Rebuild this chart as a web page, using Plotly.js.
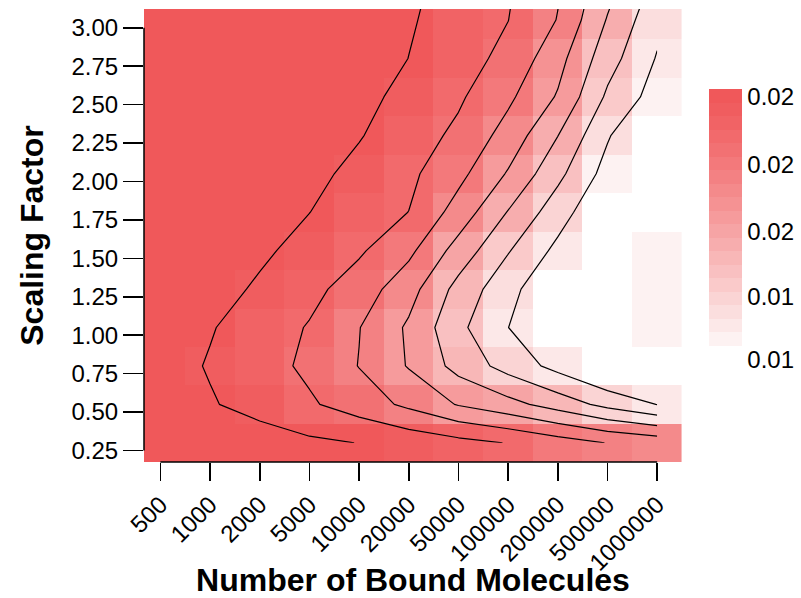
<!DOCTYPE html>
<html>
<head>
<meta charset="utf-8">
<script src="https://cdn.plot.ly/plotly-3.0.1.min.js"></script>
<style>html,body{margin:0;padding:0;background:#fff;}#chart{width:801px;height:598px;}</style>
</head>
<body>
<div id="chart"></div>
<script>
// ---------------- data ----------------
const boundMolecules = ["500","1000","2000","5000","10000","20000","50000","100000","200000","500000","1000000"];
const scalingFactors = [0.3, 0.55, 0.8, 1.05, 1.3, 1.55, 1.8, 2.05, 2.3, 2.55, 2.8, 3.05, 3.3];

const sf_0_30 = [0.01960,0.01955,0.01951,0.01918,0.01898,0.01865,0.01831,0.01796,0.01746,0.01697,0.01664];
const sf_0_55 = [0.01956,0.01909,0.01861,0.01813,0.01751,0.01679,0.01593,0.01533,0.01456,0.01370,0.01298];
const sf_0_80 = [0.01944,0.01892,0.01840,0.01780,0.01697,0.01593,0.01466,0.01362,0.01268,0.01174,0.01140];
const sf_1_05 = [0.01963,0.01907,0.01851,0.01793,0.01703,0.01585,0.01423,0.01301,0.01185,0.01140,0.01240];
const sf_1_30 = [0.01980,0.01941,0.01885,0.01828,0.01753,0.01639,0.01467,0.01332,0.01209,0.01150,0.01240];
const sf_1_55 = [0.01980,0.01970,0.01918,0.01865,0.01813,0.01723,0.01560,0.01407,0.01275,0.01143,0.01240];
const sf_1_80 = [0.01980,0.01980,0.01950,0.01901,0.01850,0.01799,0.01659,0.01495,0.01345,0.01204,0.01100];
const sf_2_05 = [0.01980,0.01980,0.01970,0.01926,0.01874,0.01821,0.01728,0.01591,0.01426,0.01263,0.01102];
const sf_2_30 = [0.01980,0.01980,0.01980,0.01960,0.01906,0.01848,0.01779,0.01662,0.01502,0.01310,0.01169];
const sf_2_55 = [0.01980,0.01980,0.01980,0.01970,0.01929,0.01871,0.01814,0.01719,0.01591,0.01383,0.01258];
const sf_2_80 = [0.01980,0.01980,0.01980,0.01980,0.01960,0.01899,0.01838,0.01775,0.01635,0.01442,0.01293];
const sf_3_05 = [0.01980,0.01980,0.01980,0.01980,0.01970,0.01910,0.01855,0.01801,0.01696,0.01493,0.01327];
const sf_3_30 = [0.01980,0.01980,0.01980,0.01980,0.01980,0.01920,0.01867,0.01813,0.01712,0.01541,0.01374];

const yTickVals = [0.25,0.5,0.75,1.0,1.25,1.5,1.75,2.0,2.25,2.5,2.75,3.0];
const yTickText = ["0.25","0.50","0.75","1.00","1.25","1.50","1.75","2.00","2.25","2.50","2.75","3.00"];

const contourStart = 0.013, contourEnd = 0.019, contourStep = 0.001;

// colour legend
const colorMin = 0.0118;       // below first band -> white
const bandStart = 0.0123;      // lowest coloured band
const bandWidth = 0.00037;
const bandCount = 19;
const cbTickVals = [0.01912, 0.01727, 0.01543, 0.01365, 0.01192];
const cbTickText = ["0.02","0.02","0.02","0.01","0.01"];

// ---------------- build ----------------
const z = [sf_0_30, sf_0_55, sf_0_80, sf_1_05, sf_1_30, sf_1_55, sf_1_80, sf_2_05, sf_2_30, sf_2_55, sf_2_80, sf_3_05, sf_3_30];
const xIdx = boundMolecules.map((_, i) => i);
const colorMax = bandStart + bandCount * bandWidth;

const dark = [240, 88, 90], light = [253, 242, 242];
function bandColor(k) {
  const f = Math.pow(1 - k / (bandCount - 1), 1.2);
  const c = dark.map((d, i) => Math.round(d + (light[i] - d) * f));
  return `rgb(${c[0]},${c[1]},${c[2]})`;
}
const span = colorMax - colorMin;
const colorscale = [[0, 'rgb(255,255,255)']];
let p0 = (bandStart - colorMin) / span;
colorscale.push([p0, 'rgb(255,255,255)']);
for (let k = 0; k < bandCount; k++) {
  const a = (bandStart + k * bandWidth - colorMin) / span;
  const b = Math.min(1, (bandStart + (k + 1) * bandWidth - colorMin) / span);
  colorscale.push([a, bandColor(k)]);
  colorscale.push([b, bandColor(k)]);
}

const FONT = 'Liberation Sans, Arial, Helvetica, sans-serif';

const heat = {
  type: 'heatmap',
  x: xIdx, y: scalingFactors, z: z,
  zsmooth: false,
  zmin: colorMin, zmax: colorMax,
  colorscale: colorscale,
  hoverinfo: 'skip',
  colorbar: {
    x: 1.0502, xanchor: 'left', xpad: 0,
    y: 0.52, yanchor: 'middle', ypad: 0,
    thickness: 33, thicknessmode: 'pixels',
    len: 275, lenmode: 'pixels',
    outlinewidth: 0,
    tickvals: cbTickVals, ticktext: cbTickText,
    tickfont: {family: FONT, size: 24, color: '#000'},
    ticks: ''
  }
};

const cont = {
  type: 'contour',
  x: xIdx, y: scalingFactors, z: z,
  showscale: false,
  hoverinfo: 'skip',
  contours: {coloring: 'none', start: contourStart, end: contourEnd, size: contourStep, showlabels: false},
  line: {color: '#000', width: 1.2, smoothing: 0}
};

const layout = {
  width: 801, height: 598,
  margin: {l: 144, r: 119, t: 9, b: 136},
  paper_bgcolor: '#fff', plot_bgcolor: '#fff',
  font: {family: FONT, color: '#000'},
  showlegend: false,
  xaxis: {
    range: [-0.33, 10.5],
    tickvals: xIdx, ticktext: boundMolecules,
    tickangle: -45,
    ticks: 'outside', ticklen: 18, tickwidth: 1.5, tickcolor: '#000',
    tickfont: {family: FONT, size: 24, color: '#000'},
    showgrid: false, zeroline: false, showline: false,
    title: {text: 'Number of Bound Molecules', font: {family: FONT, size: 32, color: '#000', weight: 'bold'}, standoff: 14}
  },
  yaxis: {
    range: [0.175, 3.122],
    tickvals: yTickVals, ticktext: yTickText,
    ticks: 'outside', ticklen: 20, tickwidth: 1.5, tickcolor: '#000',
    tickfont: {family: FONT, size: 24, color: '#000'},
    showgrid: false, zeroline: false, showline: false,
    title: {text: 'Scaling Factor', font: {family: FONT, size: 32, color: '#000', weight: 'bold'}, standoff: 18}
  },
  shapes: [
    {type: 'line', xref: 'x', yref: 'paper', x0: xIdx[0], x1: xIdx[xIdx.length - 1], y0: 0, y1: 0, line: {color: '#000', width: 1.5}},
    {type: 'line', xref: 'paper', yref: 'y', x0: 0, x1: 0, y0: yTickVals[0], y1: yTickVals[yTickVals.length - 1], line: {color: '#000', width: 1.5}}
  ]
};

Plotly.newPlot('chart', [heat, cont], layout, {staticPlot: true, displayModeBar: false});
</script>
</body>
</html>
